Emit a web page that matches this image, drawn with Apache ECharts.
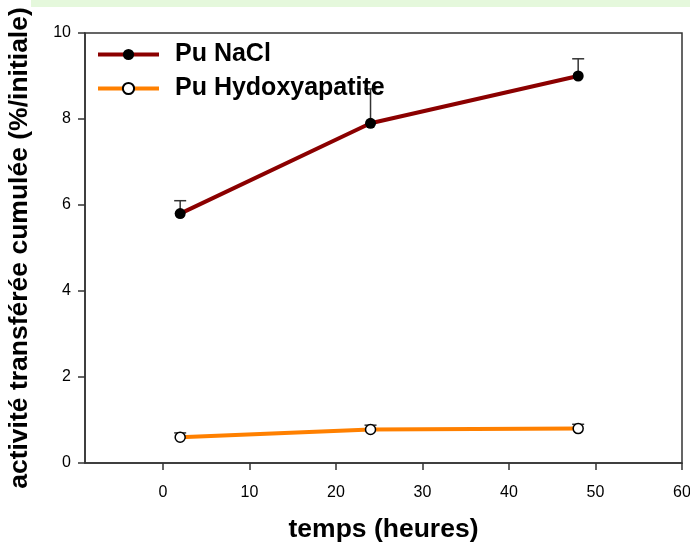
<!DOCTYPE html>
<html>
<head>
<meta charset="utf-8">
<script src="https://cdn.jsdelivr.net/npm/echarts@6/dist/echarts.min.js"></script>
<style>
  html, body { margin: 0; padding: 0; background: #ffffff; }
  #chart { width: 690px; height: 543px; }
</style>
</head>
<body>
<div id="chart"></div>
<script>
// Time points (hours)
const hours = [2, 24, 48];
// Cumulative transferred activity (% of initial)
const naclValues = [5.8, 7.9, 9.0];
const naclUpper = [6.1, 8.7, 9.4];
const hapValues = [0.6, 0.78, 0.8];
const hapUpper = [0.7, 0.88, 0.9];
// Tick labels
const xTicks = [0, 10, 20, 30, 40, 50, 60];
const yTicks = [0, 2, 4, 6, 8, 10];

const FONT = "Arial, 'Liberation Sans', sans-serif";

function pairs(xs, ys) {
  return xs.map((x, i) => [x, ys[i]]);
}

function errorBars(xs, ys, ups) {
  return xs.map((x, i) => [x, ys[i], ups[i]]);
}

// Upper error bar: vertical stem from the point plus a short cap
function renderErrorBar(params, api) {
  const x = api.value(0);
  const low = api.coord([x, api.value(1)]);
  const high = api.coord([x, api.value(2)]);
  const half = 6;
  const style = { stroke: '#333333', lineWidth: 1.5, fill: null };
  return {
    type: 'group',
    children: [
      { type: 'line', shape: { x1: low[0], y1: low[1], x2: high[0], y2: high[1] }, style: style },
      { type: 'line', shape: { x1: high[0] - half, y1: high[1], x2: high[0] + half, y2: high[1] }, style: style }
    ]
  };
}

const chart = echarts.init(document.getElementById('chart'), null, { renderer: 'canvas' });

chart.setOption({
  animation: false,
  backgroundColor: '#ffffff',
  graphic: [
    { type: 'rect', shape: { x: 31, y: 0, width: 659, height: 7 }, style: { fill: '#e5f8dc' }, silent: true }
  ],
  grid: {
    left: 85, right: 8, top: 33, bottom: 80,
    containLabel: false,
    outerBoundsMode: 'none',
    show: true, borderColor: '#333333', borderWidth: 1.5, backgroundColor: 'transparent'
  },
  legend: {
    orient: 'vertical',
    left: 91, top: 37,
    itemWidth: 61, itemHeight: 14,
    itemGap: 9,
    lineStyle: { width: 4 },
    textStyle: { fontFamily: FONT, fontSize: 25, fontWeight: 'bold', color: '#000000', padding: [0, 0, 0, 11] },
    data: ['Pu NaCl', 'Pu Hydoxyapatite']
  },
  xAxis: {
    type: 'value',
    min: -9, max: 60,
    name: 'temps (heures)',
    nameLocation: 'middle',
    nameGap: 53,
    nameTextStyle: { fontFamily: FONT, fontSize: 26.5, fontWeight: 'bold', color: '#000000' },
    axisLine: { onZero: false, lineStyle: { color: '#333333', width: 1.5 } },
    axisTick: { show: true, length: 7, inside: false, customValues: xTicks, lineStyle: { color: '#333333', width: 1.5 } },
    axisLabel: { customValues: xTicks, fontFamily: FONT, fontSize: 16, color: '#000000', margin: 22, showMinLabel: true, showMaxLabel: true },
    splitLine: { show: false }
  },
  yAxis: {
    type: 'value',
    min: 0, max: 10, interval: 2,
    name: 'activité transférée cumulée (%/initiale)',
    nameLocation: 'middle',
    nameGap: 52,
    nameRotate: 90,
    nameTextStyle: { fontFamily: FONT, fontSize: 26.5, fontWeight: 'bold', color: '#000000' },
    axisLine: { show: true, onZero: false, lineStyle: { color: '#333333', width: 1.5 } },
    axisTick: { show: true, length: 7, inside: false, customValues: yTicks, lineStyle: { color: '#333333', width: 1.5 } },
    axisLabel: { fontFamily: FONT, fontSize: 16, color: '#000000', margin: 14, customValues: yTicks },
    splitLine: { show: false }
  },
  series: [
    {
      name: 'NaCl error',
      type: 'custom',
      renderItem: renderErrorBar,
      data: errorBars(hours, naclValues, naclUpper),
      encode: { x: 0, y: [1, 2] },
      z: 1,
      silent: true
    },
    {
      name: 'Hydoxyapatite error',
      type: 'custom',
      renderItem: renderErrorBar,
      data: errorBars(hours, hapValues, hapUpper),
      encode: { x: 0, y: [1, 2] },
      z: 1,
      silent: true
    },
    {
      name: 'Pu NaCl',
      type: 'line',
      data: pairs(hours, naclValues),
      symbol: 'circle',
      symbolSize: 11,
      itemStyle: { color: '#000000', borderColor: '#000000', borderWidth: 0 },
      lineStyle: { color: '#8b0000', width: 4 },
      z: 3
    },
    {
      name: 'Pu Hydoxyapatite',
      type: 'line',
      data: pairs(hours, hapValues),
      symbol: 'circle',
      symbolSize: 10,
      itemStyle: { color: '#ffffff', borderColor: '#000000', borderWidth: 1.5 },
      lineStyle: { color: '#ff8000', width: 4 },
      z: 3
    }
  ]
});
</script>
</body>
</html>
